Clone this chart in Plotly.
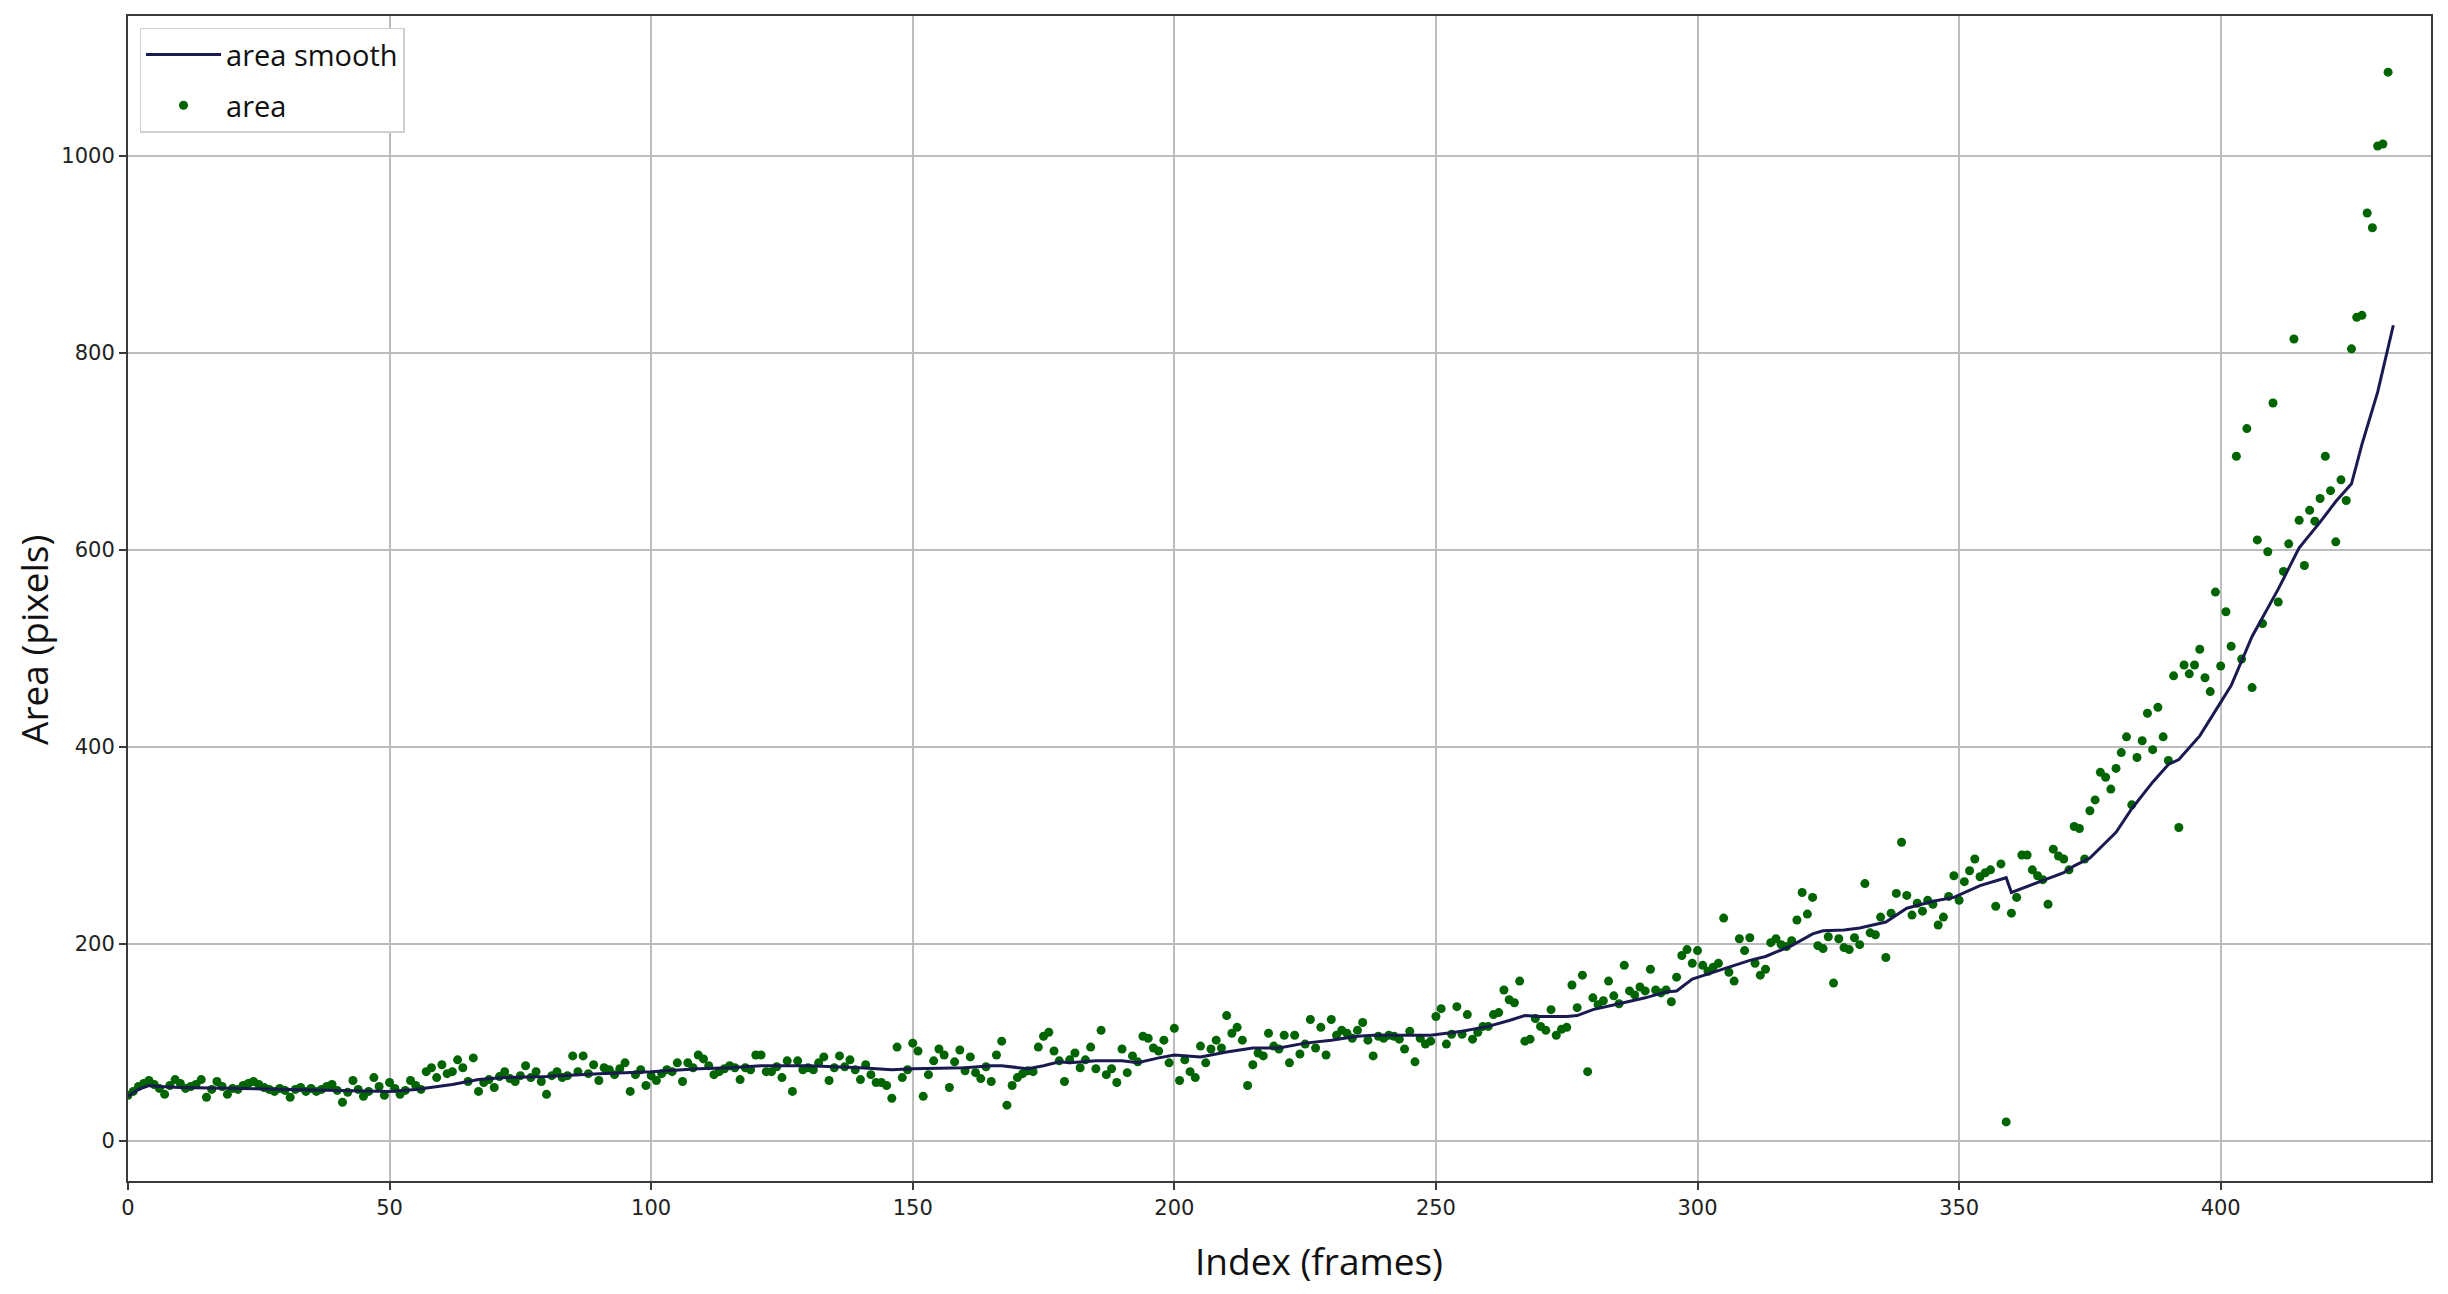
import plotly.graph_objects as go

# ---- data ----
area = [
    46, 50, 55, 58, 61, 57, 53, 47, 56, 62,
    58, 53, 55, 57, 62, 44, 52, 60, 55, 47,
    53, 52, 56, 58, 60, 57, 54, 52, 50, 53,
    51, 44, 52, 54, 50, 53, 50, 52, 55, 57,
    51, 39, 49, 61, 52, 45, 50, 64, 55, 46,
    59, 53, 47, 51, 61, 56, 52, 70, 74, 64,
    77, 68, 70, 82, 74, 60, 84, 50, 59, 62,
    54, 65, 70, 63, 60, 66, 76, 64, 70, 60,
    47, 66, 70, 64, 66, 86, 70, 86, 68, 77,
    61, 74, 72, 67, 73, 79, 50, 67, 72, 56,
    66, 61, 68, 72, 70, 79, 60, 79, 74, 87,
    83, 76, 67, 70, 73, 76, 74, 62, 74, 72,
    87, 87, 70, 70, 75, 64, 81, 50, 81, 72,
    74, 72, 79, 85, 61, 74, 86, 75, 82, 72,
    62, 77, 67, 59, 59, 56, 43, 95, 64, 72,
    99, 91, 45, 67, 81, 93, 87, 54, 80, 92,
    71, 85, 69, 63, 75, 60, 87, 101, 36, 56,
    64, 68, 71, 70, 95, 106, 110, 91, 81, 60,
    82, 89, 74, 82, 95, 73, 112, 67, 73, 59,
    93, 69, 86, 80, 106, 104, 94, 91, 102, 79,
    114, 61, 82, 70, 64, 96, 79, 93, 102, 94,
    127, 109, 115, 102, 56, 77, 89, 86, 109, 96,
    93, 107, 79, 107, 88, 98, 123, 94, 115, 87,
    123, 107, 112, 109, 104, 112, 120, 102, 86, 106,
    104, 107, 106, 103, 93, 111, 80, 104, 98, 101,
    126, 134, 98, 108, 136, 108, 128, 103, 110, 116,
    116, 128, 130, 153, 143, 140, 162, 101, 103, 124,
    116, 112, 133, 107, 113, 115, 158, 135, 168, 70,
    145, 138, 142, 162, 147, 139, 178, 152, 148, 156,
    152, 174, 153, 150, 153, 141, 166, 188, 194, 180,
    193, 178, 172, 176, 180, 226, 171, 162, 205, 193,
    206, 180, 168, 174, 201, 205, 199, 197, 203, 224,
    252, 230, 247, 198, 195, 207, 160, 205, 196, 194,
    206, 199, 261, 211, 209, 227, 186, 231, 251, 303,
    249, 229, 241, 233, 244, 240, 219, 227, 248, 269,
    244, 263, 274, 286, 268, 272, 275, 238, 281, 19,
    231, 247, 290, 290, 275, 269, 265, 240, 296, 289,
    286, 275, 319, 317, 286, 335, 346, 374, 369, 357,
    378, 394, 410, 341, 389, 406, 434, 397, 440, 410,
    386, 472, 318, 483, 474, 483, 499, 470, 456, 557,
    482, 537, 502, 695, 489, 723, 460, 610, 525, 598,
    749, 547, 578, 606, 814, 630, 584, 640, 629, 652,
    695, 660, 608, 671, 650, 804, 836, 838, 942, 927,
    1010, 1012, 1085,
]
frames = list(range(len(area)))

smooth_idx = [0, 2, 4, 6, 10, 20, 30, 40, 45, 50, 55, 58, 62, 67, 72, 80, 90,
              100, 109, 115, 121, 130, 140, 146, 150, 160, 165, 167, 170, 172,
              175, 178, 180, 185, 190, 193, 197, 200, 205, 210, 215, 220, 225,
              230, 235, 238, 245, 249, 255, 260, 264, 267, 270, 275, 277, 280,
              285, 290, 294, 296, 299, 304, 310, 313, 318, 322, 324, 328, 331,
              336, 340, 345, 349, 354, 358, 359, 360, 363, 366, 370, 372, 375,
              380, 383, 387, 390, 392, 396, 398, 400, 402, 406, 411, 415, 419,
              422, 425, 427, 430, 433]
smooth_val = [45, 52, 56, 55, 54, 53, 52, 51, 50, 50, 52, 54, 57, 62, 64, 65, 68,
              70, 73, 74, 76, 76, 74, 72, 73, 74, 76, 76, 74, 73,
              76, 80, 79, 81, 81, 79, 84, 87, 85, 90, 94, 94, 99,
              102, 106, 107, 107, 107, 111, 116, 122, 127, 126, 126, 127, 133,
              139, 145, 151, 152, 164, 173, 183, 187, 198, 210, 213, 214, 216,
              222, 236, 243, 247, 259, 266, 267, 252, 258, 264, 272, 279, 287,
              313, 337, 364, 382, 387, 411, 428, 445, 462, 512, 560, 602, 628,
              649, 667, 707, 760, 828]

x_ticks = [0, 50, 100, 150, 200, 250, 300, 350, 400]
y_ticks = [0, 200, 400, 600, 800, 1000]

fig = go.Figure()
fig.add_trace(go.Scatter(
    x=frames, y=area, mode="markers", name="area",
    marker=dict(color="#006400", size=9),
    legendgroup="b", legendrank=2,
))
fig.add_trace(go.Scatter(
    x=smooth_idx, y=smooth_val, mode="lines", name="area smooth",
    line=dict(color="#1a1a50", width=3),
    legendgroup="a", legendrank=1,
))

axis_common = dict(
    showgrid=True, gridcolor="#bdbdbd", gridwidth=2,
    showline=True, linecolor="#3a3a3a", linewidth=2, mirror=True,
    ticks="outside", ticklen=7, tickwidth=2, tickcolor="#3a3a3a",
    tickfont=dict(family="DejaVu Sans", size=21, color="#222"),
    zeroline=False, automargin=False,
)

fig.update_layout(
    width=2432, height=1280,
    margin=dict(l=120, r=9, t=8, b=107),
    paper_bgcolor="white", plot_bgcolor="white",
    xaxis=dict(range=[0, 440.2], tickvals=x_ticks, **axis_common),
    yaxis=dict(range=[-41, 1142], tickvals=y_ticks, **axis_common),
    showlegend=True,
    legend=dict(
        x=0.005, y=0.99, xanchor="left", yanchor="top",
        bgcolor="white", bordercolor="#cfcfcf", borderwidth=1.5,
        font=dict(family="Open Sans", size=29, color="#111"),
        itemwidth=75, tracegroupgap=10,
    ),
    annotations=[
        dict(text="Index (frames)", xref="paper", yref="paper",
             x=0.517, y=-0.0685, xanchor="center", yanchor="middle",
             showarrow=False, font=dict(family="Open Sans", size=37, color="#111")),
        dict(text="Area (pixels)", xref="paper", yref="paper",
             x=-0.0408, y=0.4644, xanchor="center", yanchor="middle",
             textangle=-90, showarrow=False,
             font=dict(family="Open Sans", size=37, color="#111")),
    ],
)

fig.write_html("out.html")
